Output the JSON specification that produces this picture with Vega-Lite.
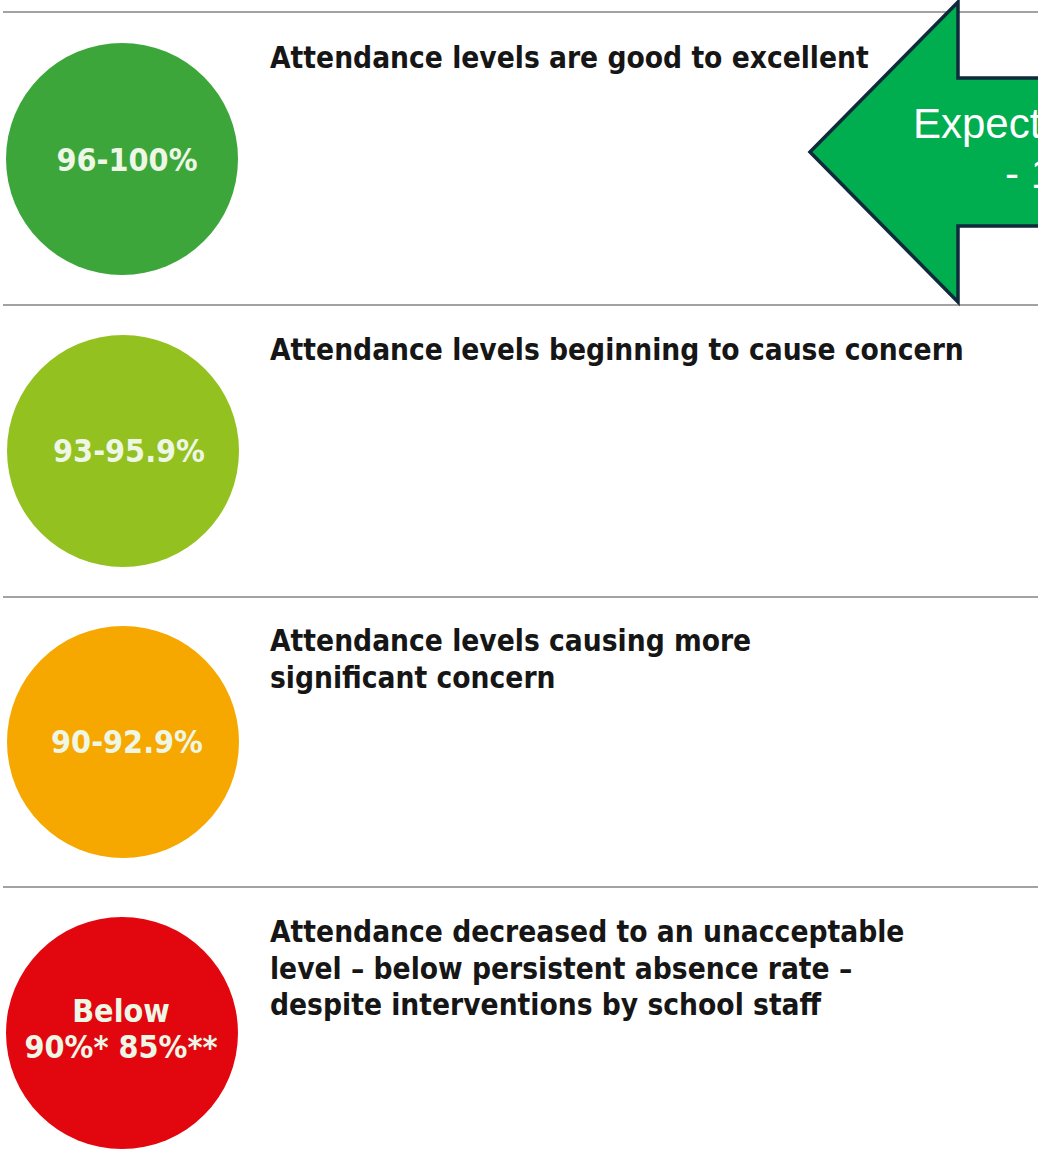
{
  "$schema": "https://vega.github.io/schema/vega-lite/v6.json",
  "width": 1038,
  "height": 1153,
  "autosize": "none",
  "padding": 0,
  "background": "#ffffff",
  "config": {"view": {"stroke": null}},
  "datasets": {
    "dividers": [{"y": 12}, {"y": 305}, {"y": 597}, {"y": 887}],
    "levels": [
      {"level": "96-100%", "x": 122, "y": 159},
      {"level": "93-95.9%", "x": 123, "y": 451},
      {"level": "90-92.9%", "x": 123, "y": 742},
      {"level": "Below 90%* 85%**", "x": 122, "y": 1033}
    ],
    "circleLabels": [
      {"label": "96-100%", "x": 127, "y": 161},
      {"label": "93-95.9%", "x": 129, "y": 452},
      {"label": "90-92.9%", "x": 127, "y": 743},
      {"label": "Below", "x": 121, "y": 1012},
      {"label": "90%* 85%**", "x": 121, "y": 1048}
    ],
    "headings": [
      {"text": "Attendance levels are good to excellent", "x": 270, "y": 68},
      {"text": "Attendance levels beginning to cause concern", "x": 270, "y": 360},
      {"text": "Attendance levels causing more", "x": 270, "y": 651},
      {"text": "significant concern", "x": 270, "y": 688},
      {"text": "Attendance decreased to an unacceptable", "x": 270, "y": 942},
      {"text": "level – below persistent absence rate –", "x": 270, "y": 979},
      {"text": "despite interventions by school staff", "x": 270, "y": 1015}
    ],
    "arrow": [{"x": 925, "y": 152}],
    "arrowText": [
      {"text": "Expect", "x": 913, "y": 138},
      {"text": "- 1", "x": 1005, "y": 188}
    ]
  },
  "layer": [
    {
      "data": {"name": "dividers"},
      "mark": {"type": "rule", "color": "#a3a3a3", "strokeWidth": 2},
      "encoding": {
        "y": {"field": "y", "type": "quantitative", "scale": {"domain": [0, 1153], "reverse": true, "nice": false, "zero": false}, "axis": null},
        "x": {"datum": 3, "type": "quantitative", "scale": {"domain": [0, 1038], "nice": false, "zero": false}, "axis": null},
        "x2": {"datum": 1038}
      }
    },
    {
      "data": {"name": "levels"},
      "mark": {"type": "point", "shape": "circle", "filled": true, "opacity": 1, "size": 53824, "strokeWidth": 0},
      "encoding": {
        "x": {"field": "x", "type": "quantitative"},
        "y": {"field": "y", "type": "quantitative"},
        "color": {
          "field": "level", "type": "nominal", "legend": null,
          "scale": {"domain": ["96-100%", "93-95.9%", "90-92.9%", "Below 90%* 85%**"], "range": ["#3ca63b", "#93c11f", "#f6a800", "#e2070f"]}
        }
      }
    },
    {
      "data": {"name": "circleLabels"},
      "mark": {"type": "text", "font": "DejaVu Sans Condensed", "fontWeight": "bold", "fontSize": 32, "align": "center", "baseline": "middle", "color": "#eef6e6"},
      "encoding": {
        "x": {"field": "x", "type": "quantitative"},
        "y": {"field": "y", "type": "quantitative"},
        "text": {"field": "label"}
      }
    },
    {
      "data": {"name": "headings"},
      "mark": {"type": "text", "font": "DejaVu Sans Condensed", "fontWeight": "bold", "fontSize": 29.6, "align": "left", "baseline": "alphabetic", "color": "#161616"},
      "encoding": {
        "x": {"field": "x", "type": "quantitative"},
        "y": {"field": "y", "type": "quantitative"},
        "text": {"field": "text"}
      }
    },
    {
      "data": {"name": "arrow"},
      "mark": {"type": "point", "filled": false, "clip": true, "opacity": 1, "fill": "#00ad4f", "fillOpacity": 1, "stroke": "#0e2a3b", "strokeWidth": 3.5, "strokeJoin": "miter", "size": 90000,
        "shape": "M-0.7667,0L0.22,-1L0.22,-0.4933L0.8,-0.4933L0.8,0.4933L0.22,0.4933L0.22,1Z"},
      "encoding": {
        "x": {"field": "x", "type": "quantitative"},
        "y": {"field": "y", "type": "quantitative"}
      }
    },
    {
      "data": {"name": "arrowText"},
      "mark": {"type": "text", "font": "Liberation Sans", "fontSize": 42, "align": "left", "baseline": "alphabetic", "color": "#ffffff", "clip": true},
      "encoding": {
        "x": {"field": "x", "type": "quantitative"},
        "y": {"field": "y", "type": "quantitative"},
        "text": {"field": "text"}
      }
    }
  ]
}
